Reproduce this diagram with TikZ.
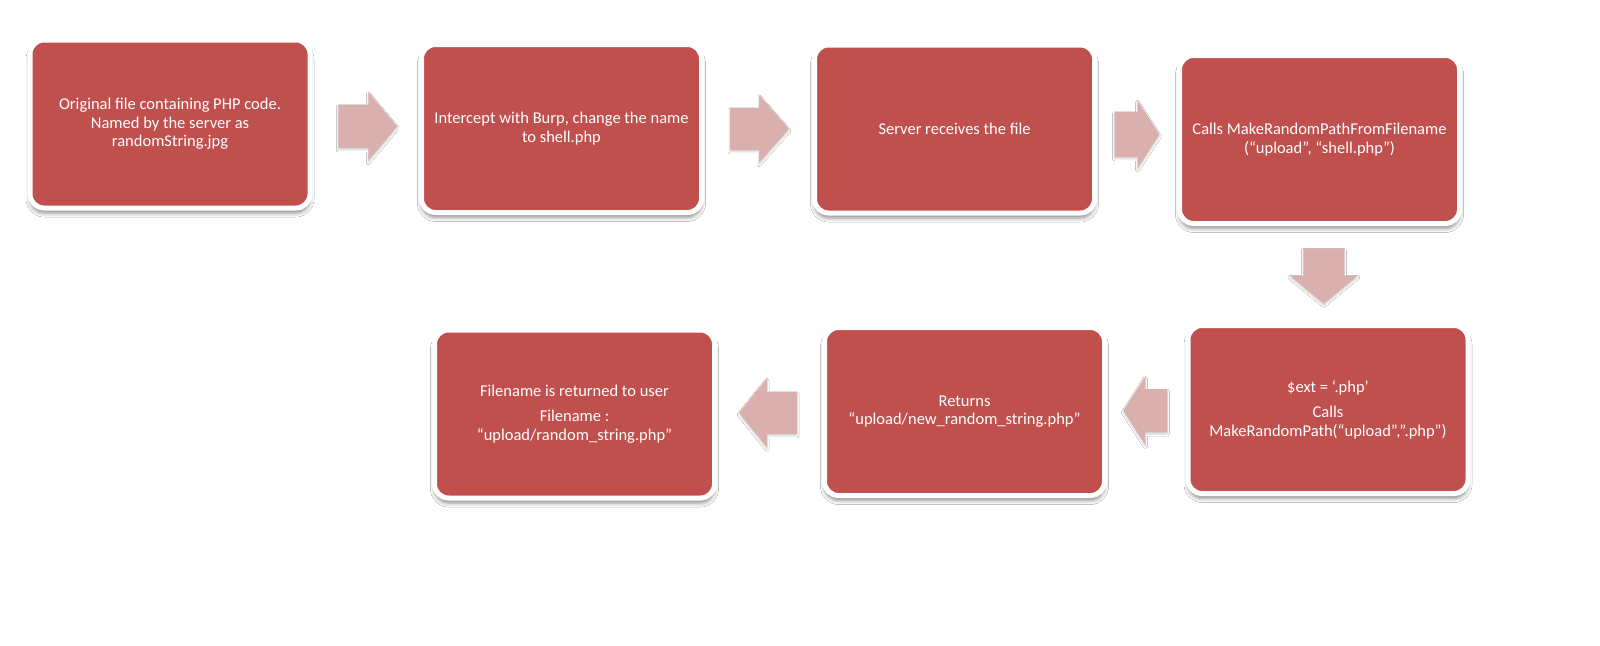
\documentclass[tikz,border=0pt]{standalone}
\usepackage{fontspec}
\setmainfont{Carlito}
\usetikzlibrary{calc,shadows.blur}
\definecolor{boxred}{HTML}{C0504D}
\definecolor{arrowpink}{HTML}{DAB0AF}
\tikzset{
  stepbox/.style={draw=white, line width=5pt, fill=boxred, rounded corners=14pt,
    minimum width=280pt, minimum height=168pt, text=white, align=center,
    font=\fontsize{16.5}{18.5}\selectfont,
    blur shadow={shadow xshift=0pt, shadow yshift=-5pt, shadow blur radius=4pt, shadow opacity=45}},
  fatarrow/.style={fill=arrowpink,
    blur shadow={shadow xshift=0pt, shadow yshift=-2pt, shadow blur radius=2pt, shadow opacity=20}}
}
% #1 centre, #2 rotation, #3 half length, #4 head length, #5 half shaft, #6 half head
\newcommand\blockarrow[6]{%
  \path[fatarrow, shift={#1}, rotate=#2]
    (-#3,-#5) -- (#3-#4,-#5) -- (#3-#4,-#6) -- (#3,0) -- (#3-#4,#6) -- (#3-#4,#5) -- (-#3,#5) -- cycle;}
\begin{document}
\begin{tikzpicture}[x=1pt,y=-1pt]
\useasboundingbox[fill=white] (0,0) rectangle (1600,645);

\node[stepbox] (b1) at (170,124) {Original file containing PHP code.\\Named by the server as\\randomString.jpg};
\node[stepbox] (b2) at (561.5,128.5) {Intercept with Burp, change the name\\to shell.php};
\node[stepbox] (b3) at (954.5,129) {Server receives the file};
\node[stepbox] (b4) at (1319.5,139.5) {Calls MakeRandomPathFromFilename\\(“upload”, “shell.php”)};
\node[stepbox] (b7) at (1328,409.5) {\$ext = ‘.php’\\[7pt]Calls\\MakeRandomPath(“upload”,”.php”)};
\node[stepbox] (b6) at (964.5,411.5) {Returns\\“upload/new\_random\_string.php”};
\node[stepbox] (b5) at (574.5,414) {Filename is returned to user\\[7pt]Filename :\\“upload/random\_string.php”};

\blockarrow{($(b1.east)!0.5!(b2.west)+(2,0)$)}{0}{29.5}{29}{21.5}{34.5}
\blockarrow{($(b2.east)!0.5!(b3.west)+(1.5,0)$)}{0}{29.5}{30}{21}{34}
\blockarrow{($(b3.east)!0.5!(b4.west)$)}{0}{22.5}{22}{22.5}{34}
\blockarrow{($(b4.south)!0.5!(b7.north)+(0,1.5)$)}{-90}{27.5}{28}{20.5}{34}
\blockarrow{($(b7.west)!0.5!(b6.east)+(-1,0)$)}{180}{22}{22}{21.5}{34}
\blockarrow{($(b6.west)!0.5!(b5.east)+(-1.5,0)$)}{180}{29}{28}{21}{34.5}
\end{tikzpicture}
\end{document}
